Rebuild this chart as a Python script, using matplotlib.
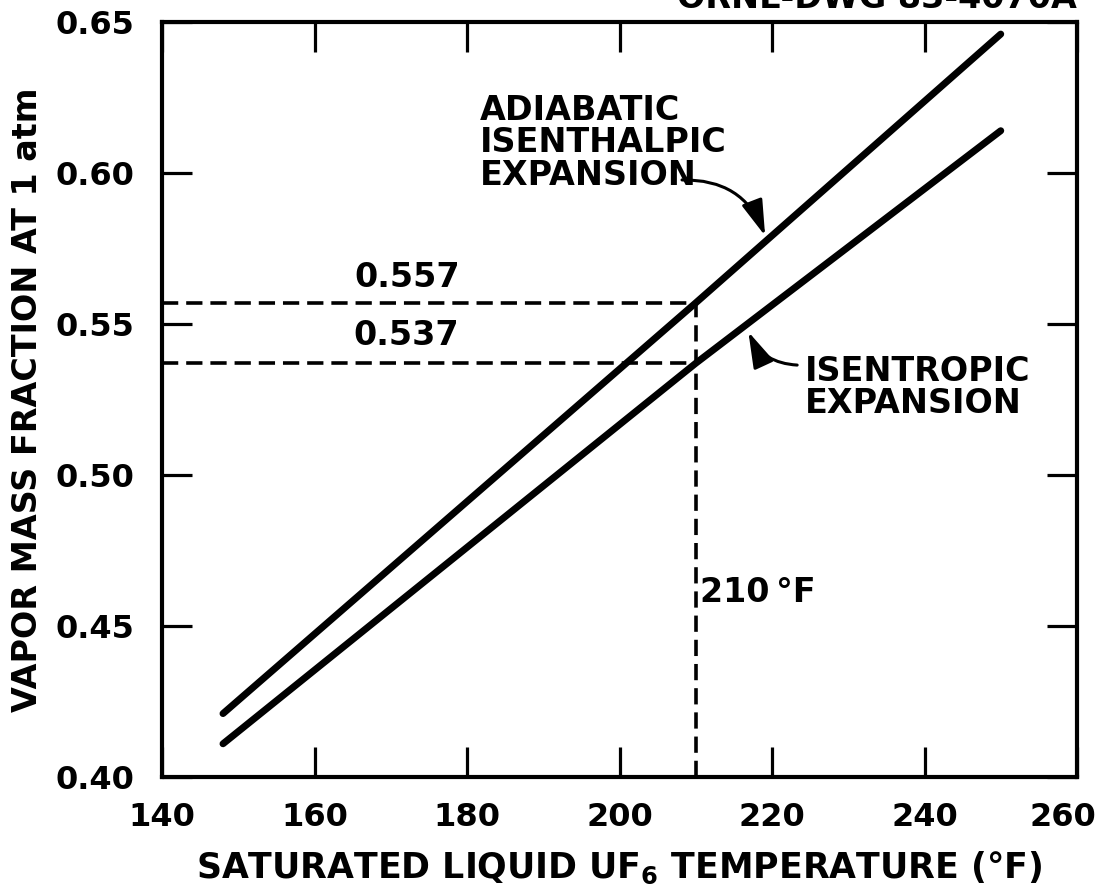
import matplotlib
matplotlib.use("Agg")
import matplotlib.pyplot as plt
from matplotlib.transforms import ScaledTranslation

# ---- data ----
temp_adiabatic = [148, 210, 250]
frac_adiabatic = [0.421, 0.557, 0.646]
temp_isentropic = [148, 210, 250]
frac_isentropic = [0.411, 0.537, 0.614]

ref_temp = 210
ref_adiabatic = 0.557
ref_isentropic = 0.537

x_ticks = [140, 160, 180, 200, 220, 240, 260]
y_ticks = [0.40, 0.45, 0.50, 0.55, 0.60, 0.65]
y_ticklabels = ["0.40", "0.45", "0.50", "0.55", "0.60", "0.65"]

W, H = 1104, 893
fig = plt.figure(figsize=(W / 100, H / 100), dpi=100)
plt.rcParams['font.family'] = ['DejaVu Sans']
FS = 24
FW = 'bold'

ax = fig.add_axes([162 / W, 1 - 777 / H, (1077 - 162) / W, (777 - 22) / H])
ax.set_xlim(140, 260)
ax.set_ylim(0.40, 0.65)

for s in ax.spines.values():
    s.set_linewidth(3)

ax.set_xticks(x_ticks)
ax.set_yticks(y_ticks)
ax.set_yticklabels(y_ticklabels)
ax.tick_params(axis='both', which='major', direction='in', length=21.5, width=2.3,
               top=True, right=True, labelsize=23)
ax.tick_params(axis='x', pad=18)
ax.tick_params(axis='y', pad=20)
for lab in ax.get_xticklabels() + ax.get_yticklabels():
    lab.set_fontweight(FW)
# last x label sits a little inside the sheet edge in the reference
last = ax.get_xticklabels()[-1]
last.set_transform(last.get_transform() + ScaledTranslation(-14 / 100, 0, fig.dpi_scale_trans))

# main curves
ax.plot(temp_adiabatic, frac_adiabatic, color='black', lw=5, solid_capstyle='round')
ax.plot(temp_isentropic, frac_isentropic, color='black', lw=5, solid_capstyle='round')

# dashed reference lines
dash_kw = dict(color='black', lw=2.6, dashes=(4.5, 2.2))
ax.plot([140, ref_temp], [ref_adiabatic, ref_adiabatic], **dash_kw)
ax.plot([140, ref_temp], [ref_isentropic, ref_isentropic], **dash_kw)
ax.plot([ref_temp, ref_temp], [0.40, ref_adiabatic], **dash_kw)

txt = dict(fontsize=FS, fontweight=FW, color='black')
ax.text(172.1, ref_adiabatic + 0.0028, f"{ref_adiabatic:.3f}", ha='center', va='bottom', **txt)
ax.text(172.0, ref_isentropic + 0.0038, f"{ref_isentropic:.3f}", ha='center', va='bottom', **txt)
ax.text(210.5, 0.4610, "210\u2009°F", ha='left', va='center', **txt)

ax.text(181.7, 0.6100, "ADIABATIC\nISENTHALPIC\nEXPANSION", ha='left', va='center',
        linespacing=0.98, **txt)
ax.text(224.3, 0.5290, "ISENTROPIC\nEXPANSION", ha='left', va='center',
        linespacing=0.98, **txt)

ax.annotate("", xy=(219.1, 0.5792), xytext=(208.2, 0.5977),
            arrowprops=dict(arrowstyle='-|>,head_length=1.0,head_width=0.3', color='black', lw=2.2,
                            connectionstyle='arc3,rad=-0.35', mutation_scale=22,
                            shrinkA=0, shrinkB=0))
ax.annotate("", xy=(216.9, 0.5474), xytext=(223.3, 0.5364),
            arrowprops=dict(arrowstyle='-|>,head_length=1.0,head_width=0.3', color='black', lw=2.2,
                            connectionstyle='arc3,rad=-0.3', mutation_scale=22,
                            shrinkA=0, shrinkB=0))

# axis labels
fig.text(619.5 / W, 1 - 868 / H, r"SATURATED LIQUID UF$_\mathbf{6}$ TEMPERATURE (°F)",
         ha='center', va='center', fontsize=25, fontweight=FW)
fig.text(28 / W, 1 - 400 / H, "VAPOR MASS FRACTION AT 1 atm", rotation=90,
         ha='center', va='center', **txt)

# drawing number, cut off at the top of the sheet (as in the reference)
fig.text(1077 / W, 1 - 8 / H, "ORNL-DWG 83-4070A", ha='right', va='baseline', **txt)

fig.savefig("out.png", dpi=100, facecolor='white')
